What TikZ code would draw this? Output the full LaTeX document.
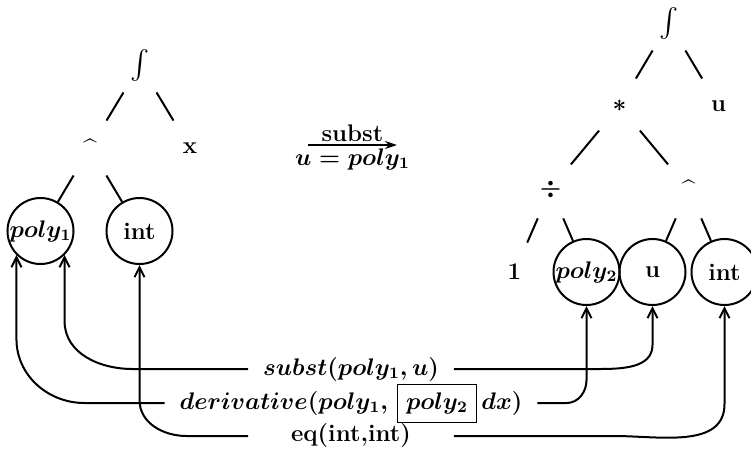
\documentclass[tikz,border=0pt]{standalone}
\usepackage{amsmath}
\usepackage{tikz}
\tikzset{x=0.5pt,y=-0.5pt}
\usetikzlibrary{arrows.meta, calc}
\setlength{\fboxsep}{4pt}

\begin{document}
\begin{tikzpicture}[line width=1pt,
  every node/.style={font=\large\bfseries\boldmath},
  opnode/.style={circle, inner sep=0pt, minimum size=31pt},
  leafnode/.style={circle, draw, inner sep=0pt, minimum size=33pt},
  lbl/.style={inner xsep=7pt, inner ysep=1pt},
  link/.style={-{Straight Barb[length=5pt,width=5pt]}},
  level distance=41.5pt]
\useasboundingbox (0,0) rectangle (751,452);
% left tree
\begin{scope}[level 1/.style={sibling distance=50pt},
              level 2/.style={sibling distance=49.5pt}]
  \node[opnode] (lint) at (140,65) {\Large$\int$}
    child {node[opnode] (lhat) {\textasciicircum}
      child {node[leafnode] (lpolya) {$poly_1$}}
      child {node[leafnode] (lintg) {int}}
    }
    child {node[opnode] (lx) {x}};
\end{scope}
% right tree
\begin{scope}[level 1/.style={sibling distance=49.5pt},
              level 2/.style={sibling distance=69pt},
              level 3/.style={sibling distance=36pt}]
  \node[opnode] (rint) at (669,23) {\Large$\int$}
    child {node[opnode] (rmul) {$\ast$}
      child {node[opnode] (rdiv) {$\div$}
        child {node[opnode] (rone) {1}}
        child {node[leafnode] (rpolyb) {$poly_2$}}
      }
      child {node[opnode] (rhat) {\textasciicircum}
        child {node[leafnode] (ru) {u}}
        child {node[leafnode] (rintg) {int}}
      }
    }
    child {node[opnode] (rvar) {u}};
\end{scope}
% the rewrite step
\coordinate (sfrom) at (308,145);
\coordinate (sto) at (397,145);
\draw[-{Stealth[length=6pt,width=4pt]}] (sfrom) -- (sto)
  node[midway,above=-2pt] {subst}
  node[midway,below=-2pt] {$u = poly_1$};
% constraints
\node[lbl] (sublbl) at (351,369) {$subst(poly_1,u)$};
\node[lbl] (derivlbl) at (351,403) {$derivative(poly_1,\,\fbox{$poly_2$}\,dx)$};
\node[lbl] (eqlbl) at (351,436) {eq(int,int)};
% left side
\draw[link] (derivlbl.west) -- ($(lpolya.south west |- derivlbl.west)+(68,0)$)
  to[out=180,in=-90] ($(lpolya.south west |- derivlbl.west)+(0,-64)$) -- (lpolya.south west);
\draw[link] (sublbl.west) -- ($(lpolya.south east |- sublbl.west)+(68,0)$)
  to[out=180,in=-90] ($(lpolya.south east |- sublbl.west)+(0,-48)$) -- (lpolya.south east);
\draw[link] (sublbl.west |- eqlbl.west) -- ($(lintg.south |- eqlbl.west)+(47,0)$)
  to[out=180,in=-90] ($(lintg.south |- eqlbl.west)+(0,-36)$) -- (lintg.south);
% right side
\draw[link] (sublbl.east) -- ($(ru.south |- sublbl.east)+(-55,0)$)
  to[out=0,in=-90] ($(ru.south |- sublbl.east)+(0,-24)$) -- (ru.south);
\draw[link] (derivlbl.east) -- ($(rpolyb.south |- derivlbl.east)+(-20,0)$)
  to[out=0,in=-90] ($(rpolyb.south |- derivlbl.east)+(0,-23)$) -- (rpolyb.south);
\draw[link] (sublbl.east |- eqlbl.east) -- ($(rintg.south |- eqlbl.east)+(-110,0)$)
  to[out=0,in=-90] ($(rintg.south |- eqlbl.east)+(0,-32)$) -- (rintg.south);
\end{tikzpicture}
\end{document}
